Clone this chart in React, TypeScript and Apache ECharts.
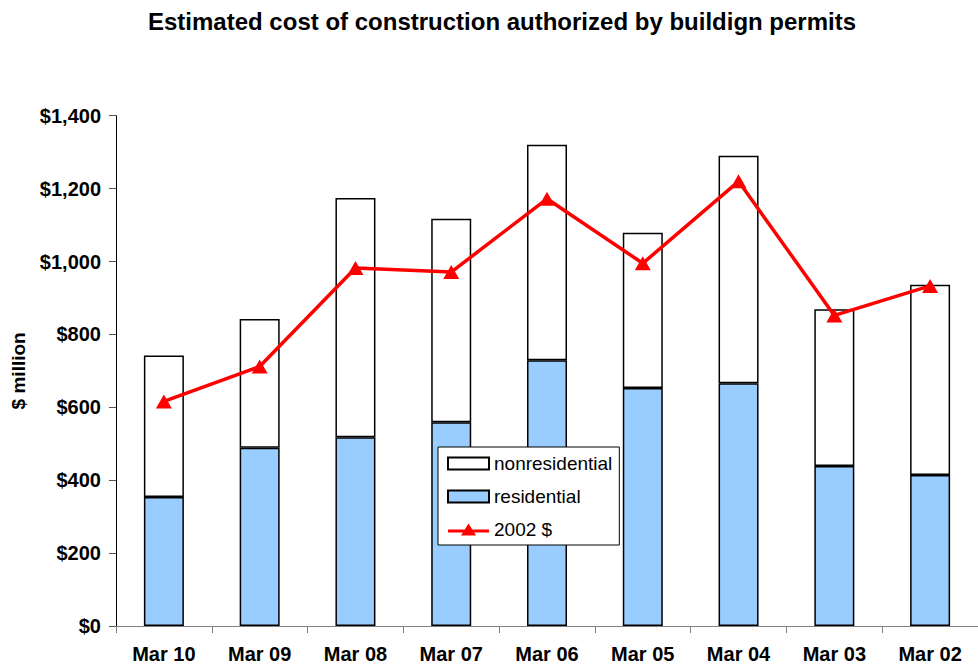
import React, { useEffect, useRef } from "react";
import * as echarts from "echarts";

const categories = ["Mar 10", "Mar 09", "Mar 08", "Mar 07", "Mar 06", "Mar 05", "Mar 04", "Mar 03", "Mar 02"];
const residential = [354, 489, 518, 559, 729, 653, 666, 439, 414];
const nonresidential = [388, 353, 656, 558, 591, 426, 624, 430, 522];
const constant2002 = [616, 712, 982, 971, 1172, 995, 1220, 852, 933];
const yTicks = { min: 0, max: 1400, interval: 200 };

const FONT = '"Liberation Sans", Arial, Helvetica, sans-serif';
const LINE_ICON = "path://M0,6 L41,6 L41,9 L0,9 Z M13,12 L20.5,0 L28,12 Z";

export default function App() {
  const ref = useRef<HTMLDivElement>(null);
  useEffect(() => {
    if (!ref.current) return;
    const chart = echarts.init(ref.current, null, { renderer: "svg" });
    chart.setOption({
      animation: false,
      backgroundColor: "#ffffff",
      textStyle: { fontFamily: FONT },
      title: {
        text: "Estimated cost of construction authorized by buildign permits",
        left: 148,
        top: 9,
        padding: 0,
        textStyle: { fontFamily: FONT, fontWeight: "bold", fontSize: 24, color: "#000" },
      },
      grid: { left: 116, top: 115.7, bottom: 38, right: -11, containLabel: false },
      legend: {
        orient: "vertical",
        left: 438,
        top: 447,
        backgroundColor: "#ffffff",
        borderColor: "#000",
        borderWidth: 1,
        borderRadius: 0,
        padding: [7, 7, 6, 9],
        itemWidth: 41,
        itemHeight: 12,
        itemGap: 14,
        textStyle: { fontFamily: FONT, fontSize: 19, color: "#000" },
        data: [
          { name: "nonresidential", icon: "rect" },
          { name: "residential", icon: "rect" },
          { name: "2002 $", icon: LINE_ICON, itemStyle: { color: "#FF0000", borderWidth: 0 } },
        ],
      },
      xAxis: {
        type: "category",
        data: categories,
        axisLine: { lineStyle: { color: "#808080", width: 1 } },
        axisTick: { show: true, length: 7, lineStyle: { color: "#808080" } },
        axisLabel: { fontFamily: FONT, fontWeight: "bold", fontSize: 20, color: "#000", margin: 18 },
      },
      yAxis: {
        type: "value",
        min: yTicks.min,
        max: yTicks.max,
        interval: yTicks.interval,
        name: "$ million",
        nameLocation: "middle",
        nameGap: 88,
        nameRotate: 90,
        nameTextStyle: { fontFamily: FONT, fontWeight: "bold", fontSize: 19, color: "#000" },
        axisLine: { show: true, lineStyle: { color: "#000", width: 1 } },
        axisTick: { show: true, length: 7, lineStyle: { color: "#555" } },
        splitLine: { show: false },
        axisLabel: {
          fontFamily: FONT,
          fontWeight: "bold",
          fontSize: 20,
          color: "#000",
          margin: 15,
          formatter: (v: number) => "$" + v.toLocaleString("en-US"),
        },
      },
      series: [
        {
          name: "residential",
          type: "bar",
          stack: "total",
          barWidth: 40,
          data: residential,
          itemStyle: { color: "#99CCFF", borderColor: "#000", borderWidth: 1.5 },
        },
        {
          name: "nonresidential",
          type: "bar",
          stack: "total",
          barWidth: 40,
          data: nonresidential,
          itemStyle: { color: "#ffffff", borderColor: "#000", borderWidth: 1.5 },
        },
        {
          name: "2002 $",
          type: "line",
          data: constant2002,
          z: 5,
          symbol: "triangle",
          symbolSize: [16, 14],
          lineStyle: { color: "#FF0000", width: 3.5 },
          itemStyle: { color: "#FF0000" },
        },
      ],
    });
    return () => chart.dispose();
  }, []);
  return <div ref={ref} style={{ width: 978, height: 664, position: "absolute", left: 0, top: 0 }} />;
}
